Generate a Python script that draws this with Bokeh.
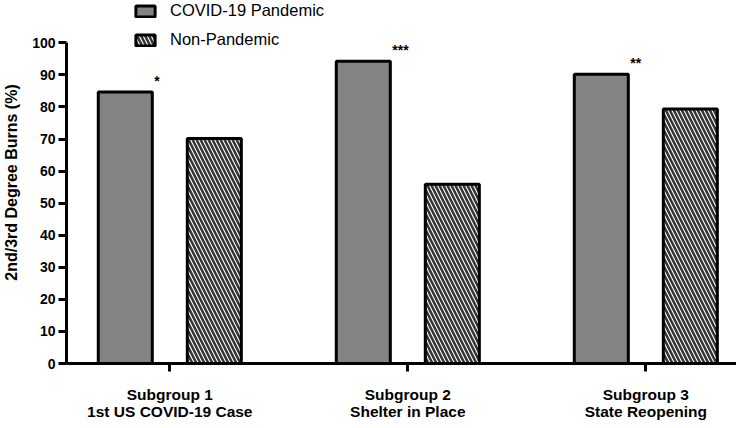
from bokeh.plotting import figure
from bokeh.models import Legend, LegendItem, FixedTicker, ColumnDataSource
from bokeh.core.properties import value
from bokeh.embed import file_html
from bokeh.resources import INLINE

# ---- data ----
categories = ["Subgroup 1\n1st US COVID-19 Case",
              "Subgroup 2\nShelter in Place",
              "Subgroup 3\nState Reopening"]
pandemic = [84.7, 94.3, 90.2]
non_pandemic = [70.2, 55.9, 79.4]
significance = ["*", "***", "**"]
series_names = ["COVID-19 Pandemic", "Non-Pandemic"]
y_ticks = [0, 10, 20, 30, 40, 50, 60, 70, 80, 90, 100]

FONT = "Liberation Sans"
positions = [i + 1 for i in range(len(categories))]
offset = 0.187
bar_w = 0.227

TOP = 1
BOTTOM = 53
FRAME_H = 368
LEFT = 66
Y_END = 112.9   # headroom above 100 for the legend

p = figure(width=736, height=TOP + FRAME_H + BOTTOM, x_range=(0.566, 3.381), y_range=(0, Y_END),
           output_backend="svg", toolbar_location=None,
           min_border_left=LEFT, min_border_right=0, min_border_top=TOP, min_border_bottom=BOTTOM)
p.outline_line_color = None
p.xgrid.visible = False
p.ygrid.visible = False
p.background_fill_color = "white"

src_a = ColumnDataSource(dict(x=[x - offset for x in positions], top=pandemic))
src_b = ColumnDataSource(dict(x=[x + offset for x in positions], top=non_pandemic))

r_a = p.vbar(x="x", top="top", width=bar_w, source=src_a,
             fill_color="#838386", line_color="black", line_width=3)
r_b = p.vbar(x="x", top="top", width=bar_w, source=src_b,
             fill_color="white", line_color="black", line_width=3,
             hatch_pattern="\\", hatch_scale=8, hatch_weight=2.5, hatch_color="#333333")

# significance markers just right of the pandemic bars
p.text(x=[x - offset + bar_w / 2 for x in positions], y=[v + 3.4 for v in pandemic],
       text=significance, x_offset=2, text_align="left", text_baseline="middle",
       text_font=value(FONT), text_font_style="bold", text_font_size="14px",
       text_color="black")

# axes
p.xaxis.ticker = FixedTicker(ticks=positions)
p.xaxis.major_label_overrides = {pos: lab for pos, lab in zip(positions, categories)}
p.yaxis.ticker = FixedTicker(ticks=y_ticks)
p.yaxis.bounds = (0, 100)
for ax in (p.xaxis, p.yaxis):
    ax.axis_line_width = 3
    ax.axis_line_color = "black"
    ax.major_tick_line_width = 3
    ax.major_tick_line_color = "black"
    ax.major_tick_out = 8
    ax.major_tick_in = 0
    ax.minor_tick_line_color = None
    ax.major_label_text_font = FONT
    ax.major_label_text_font_style = "bold"
    ax.major_label_text_color = "black"
p.yaxis.major_label_text_font_size = "14px"
p.yaxis.major_label_standoff = 3
p.xaxis.major_label_text_font_size = "15.5px"
p.xaxis.major_label_text_line_height = 1.0
p.xaxis.major_label_standoff = 14
p.xaxis.major_label_text_align = "center"
p.yaxis.axis_label = "2nd/3rd Degree Burns (%)"
p.yaxis.axis_label_text_font = FONT
p.yaxis.axis_label_text_font_style = "bold"
p.yaxis.axis_label_text_font_size = "16px"
p.yaxis.axis_label_text_color = "black"
p.yaxis.axis_label_standoff = 9

legend = Legend(items=[LegendItem(label=series_names[0], renderers=[r_a]),
                       LegendItem(label=series_names[1], renderers=[r_b])],
                location=(67, FRAME_H - 54), orientation="vertical",
                glyph_width=24, glyph_height=14, label_standoff=13,
                label_text_font=FONT, label_text_font_size="16.5px",
                label_text_color="black", label_height=14, spacing=10,
                padding=0, margin=0, border_line_color=None,
                background_fill_alpha=0)
p.add_layout(legend, "center")

open("out.html", "w").write(file_html(p, INLINE))
